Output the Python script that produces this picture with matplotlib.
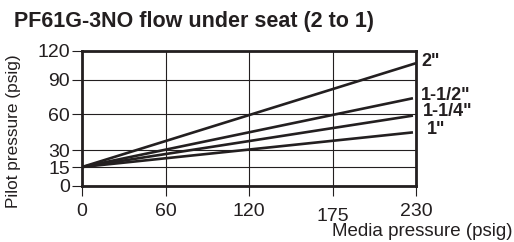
import matplotlib
matplotlib.use("Agg")
import matplotlib.pyplot as plt
import numpy as np
from matplotlib.transforms import ScaledTranslation

# tick values and where they sit on the (non-uniform) printed chart
x_ticks = [0, 60, 120, 175, 230]
x_pos = [0, 1, 2, 3, 4]
y_ticks = [0, 15, 30, 60, 90, 120]
y_pos = [0, 19, 35.7, 71.7, 106.4, 135.7]

# line endpoints (media pressure, pilot pressure)
sizes = ['2"', '1-1/2"', '1-1/4"', '1"']
x_start = [0, 0, 0, 0]
y_start = [15, 15, 15, 15]
x_end = [230, 228, 228, 228]
y_end = [107, 74, 59, 45]

INK = '#231f20'
plt.rcParams['font.family'] = ['Liberation Sans', 'DejaVu Sans']

fig = plt.figure(figsize=(5.14, 2.42), dpi=100)
ax = fig.add_axes([82/514, 1-186/242, (416-82)/514, (186-50.5)/242])

ax.set_xscale('function', functions=(lambda v: np.interp(v, x_ticks, x_pos),
                                     lambda p: np.interp(p, x_pos, x_ticks)))
ax.set_yscale('function', functions=(lambda v: np.interp(v, y_ticks, y_pos),
                                     lambda p: np.interp(p, y_pos, y_ticks)))
ax.set_xlim(0, 230)
ax.set_ylim(0, 120)

for xs, ys, xe, ye in zip(x_start, y_start, x_end, y_end):
    ax.plot([xs, xe], [ys, ye], color=INK, lw=1.9, solid_capstyle='butt')

ax.set_xticks(x_ticks)
ax.set_yticks(y_ticks)
ax.grid(True, color=INK, lw=0.8)
ax.set_axisbelow(True)
for s in ax.spines.values():
    s.set_linewidth(2.0)
    s.set_color(INK)
ax.tick_params(axis='both', direction='out', length=7, width=0.8, color=INK,
               labelsize=14, labelcolor=INK)
ax.tick_params(axis='x', pad=5)
ax.tick_params(axis='y', pad=1.5)

# the 175 label is printed a little lower
for t in ax.get_xticklabels():
    if t.get_text() == '175':
        t.set_transform(t.get_transform() + ScaledTranslation(0, -4/72, fig.dpi_scale_trans))

# line labels at the right
lab_x = [421, 421, 423, 427]
lab_y = [62, 95, 112, 130]
for s, lx, ly in zip(sizes, lab_x, lab_y):
    fig.text(lx/514, 1-ly/242, s, ha='left', va='center', fontsize=13,
             fontweight='bold', color=INK)

fig.text(14/514, 1-22/242, 'PF61G-3NO flow under seat (2 to 1)', ha='left',
         va='center', fontsize=15.5, fontweight='bold', color=INK)
fig.text(14/514, 1-131/242, 'Pilot pressure (psig)', rotation=90, ha='center',
         va='center', fontsize=12.4, color=INK)
fig.text(512/514, 1-231/242, 'Media pressure (psig)', ha='right', va='center',
         fontsize=13.5, color=INK)

fig.savefig('out.png', dpi=100)
